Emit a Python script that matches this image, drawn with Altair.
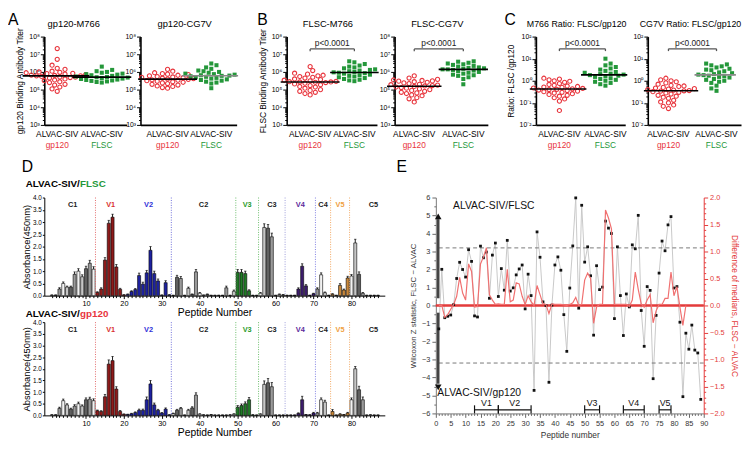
import altair as alt
import numpy as np
import pandas as pd

FONT = "Liberation Sans"
RED = "#e8343c"
GREEN = "#24973a"

# ---------------- Panels A-C : titres / ratios per animal ----------------
vaccine = "ALVAC-SIV"
groups = ["gp120", "FLSC"]

gp120_m766_gp = [2.1e7, 5.2e6, 2.4e6, 1.6e6, 1.4e6, 1.1e6, 1.0e6, 9.5e5, 9.0e5, 8.3e5, 8.0e5, 7.6e5,
                 7.0e5, 6.6e5, 6.3e5, 6.0e5, 6.0e5, 5.6e5, 5.2e5, 5.0e5, 4.8e5, 4.5e5, 4.0e5, 3.5e5,
                 3.2e5, 2.8e5, 2.5e5, 2.0e5, 1.8e5, 1.4e5, 1.1e5, 8.0e4]
gp120_m766_fl = [2.0e6, 1.3e6, 1.1e6, 1.0e6, 9.0e5, 8.0e5, 7.5e5, 7.0e5, 6.5e5, 6.0e5, 5.5e5, 5.2e5,
                 5.0e5, 4.8e5, 4.5e5, 4.2e5, 4.0e5, 3.7e5, 3.5e5, 3.3e5, 3.1e5, 2.9e5, 2.7e5, 2.5e5]
gp120_cg7v_gp = [1.4e6, 1.1e6, 9.0e5, 8.0e5, 7.5e5, 7.0e5, 6.5e5, 6.0e5, 5.5e5, 5.2e5, 5.0e5, 4.7e5,
                 4.4e5, 4.2e5, 4.0e5, 3.8e5, 3.6e5, 3.4e5, 3.2e5, 3.0e5, 2.8e5, 2.6e5, 2.4e5, 2.2e5,
                 2.0e5, 1.8e5, 1.6e5, 1.5e5, 1.3e5, 1.2e5]
gp120_cg7v_fl = [3.0e6, 2.4e6, 1.8e6, 1.5e6, 1.2e6, 1.1e6, 1.0e6, 9.0e5, 8.0e5, 7.5e5, 7.0e5, 6.5e5,
                 6.2e5, 6.0e5, 5.7e5, 5.3e5, 5.0e5, 4.6e5, 4.2e5, 3.8e5, 3.5e5, 3.2e5, 2.8e5, 2.5e5,
                 2.2e5, 1.2e5]
flsc_m766_gp = [2.0e6, 1.2e6, 8.5e5, 7.5e5, 6.5e5, 6.0e5, 5.5e5, 5.0e5, 4.5e5, 4.0e5, 3.7e5, 3.4e5,
                3.1e5, 2.9e5, 2.8e5, 2.7e5, 2.7e5, 2.6e5, 2.5e5, 2.3e5, 2.1e5, 1.9e5, 1.7e5, 1.5e5,
                1.4e5, 1.2e5, 1.0e5, 9.0e4, 8.0e4, 7.0e4, 6.0e4, 5.0e4]
flsc_m766_fl = [4.0e6, 3.5e6, 2.8e6, 2.3e6, 2.0e6, 1.8e6, 1.6e6, 1.4e6, 1.3e6, 1.2e6, 1.1e6, 1.0e6,
                9.5e5, 9.0e5, 8.5e5, 8.0e5, 7.0e5, 6.5e5, 6.0e5, 5.5e5, 5.0e5, 4.5e5, 4.0e5, 3.6e5,
                3.3e5, 3.0e5]
flsc_cg7v_gp = [6.0e5, 4.5e5, 3.8e5, 3.5e5, 3.3e5, 3.1e5, 3.0e5, 2.8e5, 2.6e5, 2.4e5, 2.2e5, 2.0e5,
                1.9e5, 1.8e5, 1.7e5, 1.6e5, 1.5e5, 1.4e5, 1.3e5, 1.2e5, 1.1e5, 1.0e5, 9.0e4, 8.0e4,
                7.0e4, 6.5e4, 6.0e4, 5.0e4, 4.5e4, 3.5e4, 3.0e4, 2.0e4]
flsc_cg7v_fl = [4.0e6, 3.8e6, 3.3e6, 3.0e6, 2.7e6, 2.5e6, 2.2e6, 2.0e6, 1.8e6, 1.7e6, 1.6e6, 1.5e6,
                1.4e6, 1.4e6, 1.3e6, 1.2e6, 1.1e6, 1.0e6, 9.0e5, 8.0e5, 7.0e5, 6.5e5, 6.0e5, 5.0e5,
                4.0e5, 2.0e5]
ratio_m766_gp = [1.3, 1.2, 1.1, 1.0, 0.95, 0.85, 0.75, 0.68, 0.62, 0.58, 0.55, 0.52, 0.5, 0.47, 0.45,
                 0.43, 0.41, 0.4, 0.38, 0.36, 0.34, 0.32, 0.3, 0.28, 0.26, 0.24, 0.22, 0.2, 0.17, 0.15,
                 0.12, 0.045]
ratio_m766_fl = [10, 6, 5, 4.2, 3.6, 3.2, 2.8, 2.5, 2.3, 2.1, 2.0, 1.9, 1.8, 1.7, 1.6, 1.5, 1.3, 1.2,
                 1.1, 1.0, 0.9, 0.8, 0.7, 0.6]
ratio_cg7v_gp = [1.3, 1.1, 1.0, 0.9, 0.8, 0.7, 0.62, 0.58, 0.55, 0.5, 0.47, 0.44, 0.42, 0.4, 0.38,
                 0.36, 0.35, 0.34, 0.32, 0.3, 0.28, 0.25, 0.22, 0.2, 0.18, 0.16, 0.13, 0.11, 0.1,
                 0.08, 0.07, 0.055]
ratio_cg7v_fl = [6, 5.5, 5, 4.5, 4, 3.5, 3.2, 3, 2.7, 2.4, 2.2, 2, 1.9, 1.8, 1.7, 1.6, 1.5, 1.4, 1.2,
                 1.1, 1.0, 0.9, 0.8, 0.6, 0.45, 0.35]
p_text = "p<0.0001"

# ---------------- Panel D : peptide ELISA ----------------
peptides = list(range(1, 88))
flsc_abs = [0.02, 0.02, 0.27, 0.50, 0.35, 0.35, 0.87, 1.00, 0.77, 1.10,
            1.32, 1.08, 0.13, 0.27, 1.45, 2.95, 3.20, 1.17, 0.26, 0.03,
            0.05, 0.17, 0.25, 0.82, 0.47, 0.93, 1.85, 0.90, 0.60, 0.02,
            0.53, 0.03, 0.01, 0.75, 0.70, 0.01, 0.30, 0.05, 0.97, 0.10,
            0.02, 0.05, 0.01, 0.01, 0.01, 0.01, 0.32, 0.01, 0.18, 0.95,
            0.95, 0.90, 0.20, 0.01, 0.01, 0.10, 2.78, 2.75, 2.40, 0.01,
            0.05, 0.03, 0.01, 0.01, 0.01, 0.27, 1.20, 0.40, 0.01, 0.08,
            0.27, 0.85, 0.12, 0.01, 0.06, 0.01, 0.42, 0.23, 0.72, 0.80,
            2.15, 0.87, 0.10, 0.01, 0.01, 0.01, 0.01]
flsc_err = [0.01, 0.01, 0.05, 0.06, 0.04, 0.04, 0.10, 0.10, 0.08, 0.10,
            0.12, 0.10, 0.03, 0.05, 0.10, 0.12, 0.12, 0.10, 0.04, 0.01,
            0.02, 0.03, 0.04, 0.10, 0.08, 0.10, 0.15, 0.10, 0.08, 0.01,
            0.08, 0.01, 0.01, 0.08, 0.08, 0.01, 0.05, 0.02, 0.10, 0.03,
            0.01, 0.02, 0.01, 0.01, 0.01, 0.01, 0.07, 0.01, 0.05, 0.12,
            0.12, 0.10, 0.04, 0.01, 0.01, 0.03, 0.15, 0.15, 0.15, 0.01,
            0.02, 0.02, 0.01, 0.01, 0.01, 0.05, 0.10, 0.05, 0.01, 0.02,
            0.05, 0.08, 0.03, 0.01, 0.02, 0.01, 0.07, 0.04, 0.07, 0.06,
            0.15, 0.10, 0.03, 0.01, 0.01, 0.01, 0.01]
gp120_abs = [0.02, 0.02, 0.30, 0.63, 0.45, 0.27, 0.40, 0.50, 0.40, 0.67,
             0.70, 0.63, 0.20, 0.17, 0.80, 2.20, 2.35, 1.13, 0.17, 0.05,
             0.04, 0.07, 0.12, 0.22, 0.22, 0.67, 1.35, 0.45, 0.22, 0.10,
             0.27, 0.02, 0.08, 0.22, 0.30, 0.01, 0.22, 0.32, 0.87, 0.05,
             0.02, 0.01, 0.03, 0.01, 0.01, 0.01, 0.01, 0.02, 0.05, 0.35,
             0.42, 0.50, 0.67, 0.02, 0.01, 0.05, 1.33, 1.40, 1.23, 0.01,
             0.01, 0.01, 0.01, 0.01, 0.01, 0.08, 0.67, 0.03, 0.02, 0.10,
             0.10, 0.67, 0.57, 0.01, 0.17, 0.01, 0.05, 0.03, 0.10, 0.67,
             2.00, 1.10, 0.67, 0.01, 0.02, 0.01, 0.01]
gp120_err = [0.01, 0.01, 0.05, 0.07, 0.05, 0.04, 0.06, 0.07, 0.05, 0.08,
             0.08, 0.08, 0.03, 0.03, 0.10, 0.18, 0.18, 0.10, 0.04, 0.01,
             0.01, 0.02, 0.03, 0.05, 0.05, 0.12, 0.15, 0.08, 0.04, 0.02,
             0.05, 0.01, 0.02, 0.04, 0.04, 0.01, 0.04, 0.05, 0.10, 0.02,
             0.01, 0.01, 0.01, 0.01, 0.01, 0.01, 0.01, 0.01, 0.02, 0.07,
             0.07, 0.08, 0.10, 0.01, 0.01, 0.02, 0.15, 0.18, 0.18, 0.01,
             0.01, 0.01, 0.01, 0.01, 0.01, 0.03, 0.15, 0.01, 0.01, 0.03,
             0.03, 0.08, 0.08, 0.01, 0.08, 0.01, 0.02, 0.01, 0.03, 0.08,
             0.10, 0.15, 0.12, 0.01, 0.01, 0.01, 0.01]
region_names = ["C1", "V1", "V2", "C2", "V3", "C3", "V4", "C4", "V5", "C5"]
region_start = [0.5, 12.5, 20.5, 32.5, 49.5, 55.5, 62.5, 70.5, 74.5, 79.5]
region_end = [12.5, 20.5, 32.5, 49.5, 55.5, 62.5, 70.5, 74.5, 79.5, 92.0]

# ---------------- Panel E : Wilcoxon statistic ----------------
e_peptides = list(range(1, 90))
wilcoxon_z = [-1.30, 2.01, -0.68, -0.60, -0.53, 0.05, 1.50, 2.40, 2.00, 1.58,
              3.10, 2.45, -0.58, -0.64, 3.30, 2.65, 2.97, 0.40, 2.80, 3.47,
              0.50, 2.05, 0.85, 3.62, 0.80, 0.98, 1.70, 2.03, 2.25, -0.19,
              1.74, 0.55, -4.72, 4.09, 2.68, 0.20, 0.00, -4.27, 0.02, 2.25,
              2.70, 1.96, -0.51, -2.55, 0.97, 3.31, 5.98, -0.15, 5.57, 2.41,
              3.26, 1.65, -1.65, 2.21, 0.88, 1.02, 4.69, 4.30, 4.00, -0.73,
              3.26, 0.55, -1.67, 0.64, -0.08, 3.37, 3.15, 5.01, -0.28, -2.27,
              1.05, 0.84, -4.07, -0.55, 1.80, 3.58, 3.04, 4.48, 4.94, 0.97,
              1.05, -0.93, -5.07, -1.54, -2.43, -1.09, -2.48, -2.64, -5.22]
diff_peptides = list(range(1, 85))
median_diff = [0.00, 0.00, -0.22, -0.17, -0.07, 0.02, 0.17, 0.52, 0.23, 0.10,
               0.77, 0.63, -0.03, -0.02, 0.77, 0.90, 1.07, 0.20, 0.10, 0.02,
               0.03, 0.02, 0.02, 0.67, 0.07, 0.10, 0.42, 0.40, 0.17, 0.02,
               0.18, 0.07, 0.00, 0.37, 0.20, 0.03, 0.02, -0.15, 0.03, 0.02,
               0.02, 0.02, 0.01, 0.00, 0.02, 0.05, 0.15, 0.00, 0.02, 0.47,
               0.60, 0.50, -0.33, -0.03, 0.02, 0.02, 1.77, 1.62, 1.42, 0.02,
               0.02, 0.02, 0.02, 0.02, -0.02, 0.10, 0.62, 0.30, 0.03, -0.03,
               0.10, 0.20, -0.32, -0.10, 0.02, 0.02, 0.13, 0.13, 0.62, 0.18,
               0.35, -0.03, -0.37, 0.00]
z_threshold = [3.2, -3.2]
v_names = ["V1", "V2", "V3", "V4", "V5"]
v_start = [13, 21, 50, 63, 75]
v_end = [21, 32, 55, 70, 79]


# =====================================================================
def swarm(vals, lo, hi, h, unit, diam=4.8):
    """simple beeswarm layout, returns horizontal offsets in scale units"""
    y = (np.log10(np.asarray(vals, float)) - lo) / (hi - lo) * h
    order = np.argsort(y)
    placed = []
    off = np.zeros(len(y))
    step = diam * 0.55
    for n, i in enumerate(order):
        k = 0
        pos = 0.0
        while True:
            cands = [0.0] if k == 0 else ([-k * step, k * step] if n % 2 else [k * step, -k * step])
            found = None
            for c in cands:
                if all((c - px) ** 2 + (y[i] - py) ** 2 >= 0.9 * diam ** 2 for px, py in placed):
                    found = c
                    break
            if found is not None:
                pos = found
                break
            k += 1
        placed.append((pos, y[i]))
        off[i] = pos / unit
    return off


SUPS = "['⁻²','⁻¹','⁰','¹','²','³','⁴','⁵','⁶','⁷','⁸']"
MAJOR = "abs(log(datum.value)/LN10 - round(log(datum.value)/LN10)) < 0.001"


def strip(title, gp, fl, lo, hi, W, dom, ytitle=None, letter=None, lx=-37, pline=None,
          medc=("black", "black"), tdx=-4, tsize=9.5):
    H = 90
    unit = W / (dom[1] - dom[0])
    rows, meds = [], []
    for g, vals in enumerate([gp, fl]):
        off = swarm(vals, lo, hi, H, unit)
        for v, o in zip(vals, off):
            rows.append({"g": g, "xp": g + o, "v": v})
        meds.append({"x1": g + off.min() - 0.08, "x2": g + off.max() + 0.08,
                     "m": float(np.median(vals)), "c": medc[g]})
    pts = pd.DataFrame(rows)
    med = pd.DataFrame(meds)
    xs = alt.Scale(domain=list(dom), nice=False, zero=False)
    ys = alt.Scale(type="log", domain=[10.0 ** lo, 10.0 ** hi], nice=False)
    ticks = [m * 10.0 ** k for k in range(lo, hi) for m in range(1, 10)] + [10.0 ** hi]
    yax = alt.Axis(values=ticks,
                   labelExpr=f"{MAJOR} ? '10' + {SUPS}[round(log(datum.value)/LN10) + 2] : ''",
                   tickSize={"condition": {"test": MAJOR, "value": 4}, "value": 2},
                   tickColor="black", domainColor="black", domainWidth=1.6, tickWidth=1,
                   labelFontSize=7, labelPadding=1, labelColor="black", labelOverlap=False,
                   title=ytitle if ytitle else "", titleFontSize=8.5, titleFontWeight="normal",
                   titlePadding=4, titleColor="black", grid=False)
    xax = alt.Axis(labels=False, ticks=False, title="", domainColor="black",
                   domainWidth=1.6, grid=False)
    X = lambda f: alt.X(f, scale=xs, axis=xax)
    Y = lambda f: alt.Y(f, scale=ys, axis=yax)
    layers = []
    layers.append(alt.Chart(pts[pts.g == 0]).mark_point(
        shape="circle", filled=False, color=RED, strokeWidth=1.1, size=18, opacity=1).encode(
        x=X("xp:Q"), y=Y("v:Q")))
    layers.append(alt.Chart(pts[pts.g == 1]).mark_square(color=GREEN, size=17, opacity=1).encode(
        x=X("xp:Q"), y=Y("v:Q")))
    layers.append(alt.Chart(med).mark_rule(strokeWidth=1.6).encode(
        x=X("x1:Q"), x2="x2:Q", y=Y("m:Q"), color=alt.Color("c:N", scale=None)))
    lab = pd.DataFrame({"g": [0, 1], "l1": [vaccine, vaccine], "l2": groups, "c": [RED, GREEN]})
    layers.append(alt.Chart(lab).mark_text(fontSize=8.5, color="black").encode(
        x=X("g:Q"), y=alt.value(H + 9), text="l1:N"))
    layers.append(alt.Chart(lab).mark_text(fontSize=8.5).encode(
        x=X("g:Q"), y=alt.value(H + 21), text="l2:N", color=alt.Color("c:N", scale=None)))
    layers.append(alt.Chart(pd.DataFrame({"t": [title]})).mark_text(
        fontSize=tsize, color="black").encode(x=alt.value(W / 2 + tdx), y=alt.value(-13), text="t:N"))
    if letter:
        layers.append(alt.Chart(pd.DataFrame({"t": [letter]})).mark_text(
            fontSize=16, align="left", color="black").encode(
            x=alt.value(lx), y=alt.value(-17), text="t:N"))
    if pline:
        br = pd.DataFrame({"x1": [0.0], "x2": [1.0], "y": [pline], "t": [p_text]})
        br["yl"] = br["y"] / 10 ** (0.13 * (hi - lo) / 5)
        layers.append(alt.Chart(br).mark_rule(color="#555", strokeWidth=1.3).encode(
            x=X("x1:Q"), x2="x2:Q", y=Y("y:Q")))
        layers.append(alt.Chart(br).transform_fold(["x1", "x2"], as_=["k", "xe"]).mark_rule(
            color="#555", strokeWidth=1.3).encode(x=X("xe:Q"), y=Y("y:Q"), y2="yl:Q"))
        layers.append(alt.Chart(br).transform_calculate(xm="(datum.x1 + datum.x2) / 2").mark_text(
            fontSize=8.5, color="#222", baseline="bottom", dy=-1).encode(
            x=X("xm:Q"), y=Y("y:Q"), text="t:N"))
    return alt.layer(*layers).properties(width=W, height=H)


A1 = strip("gp120-M766", gp120_m766_gp, gp120_m766_fl, 3, 8, 84, (-0.29, 1.56),
           ytitle="gp120 Binding Antibody Titer", letter="A", lx=-37, tdx=-12)
A2 = strip("gp120-CG7V", gp120_cg7v_gp, gp120_cg7v_fl, 3, 8, 98, (-0.62, 1.58),
           medc=("black", "#888888"))
B1 = strip("FLSC-M766", flsc_m766_gp, flsc_m766_fl, 3, 8, 92, (-0.53, 1.51),
           ytitle="FLSC Binding Antibody Titer", letter="B", lx=-30, pline=2.0e7)
B2 = strip("FLSC-CG7V", flsc_cg7v_gp, flsc_cg7v_fl, 3, 8, 95, (-0.40, 1.50), pline=2.0e7)
C1 = strip("M766 Ratio: FLSC/gp120", ratio_m766_gp, ratio_m766_fl, -2, 2, 91, (-0.51, 1.43),
           ytitle="Ratio: FLSC /gp120", letter="C", lx=-32, pline=28, tsize=9)
C2 = strip("CG7V Ratio: FLSC/gp120", ratio_cg7v_gp, ratio_cg7v_fl, -2, 2, 95, (-0.43, 1.51),
           pline=28, medc=("black", "#888888"), tsize=9)

top = alt.hconcat(alt.hconcat(A1, A2, spacing=-8),
                  alt.hconcat(alt.hconcat(B1, B2, spacing=-1), alt.hconcat(C1, C2, spacing=2),
                              spacing=16), spacing=18)

# ----------------------------- D ------------------------------------
V_FILL = {"V1": "#8e1b1b", "V2": "#1e22a0", "V3": "#207a26", "V4": "#3c1c6c", "V5": "#c8873a"}
GRAYS = ["#f2f2f2", "#c6c6c6", "#606060", "#9a9a9a"]
TXT_COL = {"C": "#222222", "V1": "#d93030", "V2": "#3030d8", "V3": "#2a9c2a", "V4": "#5b2a9c",
           "V5": "#f0a040"}
LINE_COL = {"V1": "#e06666", "C2": "#6a6ad8", "V3": "#66bb66", "C3": "#66bb66", "V4": "#9a9ad8",
            "C4": "#7a7ae0", "V5": "#f2a45c", "C5": "#f2a45c"}


def region_of(p):
    for n, s, e in zip(region_names, region_start, region_end):
        if s < p < e:
            return n
    return "C5"


reg = pd.DataFrame({"name": region_names, "s": region_start, "e": region_end})
reg["mid"] = (reg.s + reg.e.clip(upper=88)) / 2
reg.loc[reg.name == "C5", "mid"] = 85.8
reg["tc"] = [TXT_COL.get(n, TXT_COL["C"]) for n in reg.name]
bnd = reg[reg.name.isin(LINE_COL.keys())].copy()
bnd["lc"] = [LINE_COL[n] for n in bnd.name]

dxs = alt.Scale(domain=[0.3, 87.5], nice=False, zero=False)
dys = alt.Scale(domain=[0, 4], nice=False)
d_xax = alt.Axis(values=peptides, labelExpr="datum.value % 10 == 0 ? datum.label : ''",
                 tickSize={"condition": {"test": "datum.value % 10 == 0", "value": 3}, "value": 2},
                 tickColor="black", domainColor="black", labelFontSize=7.5, labelPadding=1,
                 labelColor="black", labelFlush=False, labelOverlap=False, grid=False,
                 title="Peptide Number", titleFontSize=10.5, titleFontWeight="normal",
                 titlePadding=1, titleColor="black")
d_yax = alt.Axis(values=[i / 2 for i in range(9)], format=".1f", tickSize=2, tickColor="black",
                 domainColor="black", labelFontSize=6.5, labelPadding=1, labelColor="black",
                 labelOverlap=False, grid=False, title="Absorbance(450nm)", titleFontSize=9.5,
                 titleFontWeight="normal", titlePadding=1, titleColor="black")


def dpanel(vals, errs, H, first):
    df = pd.DataFrame({"pep": peptides, "v": vals, "e": errs})
    df["top"] = df.v + df.e
    df["reg"] = [region_of(p) for p in df.pep]
    df["fill"] = [V_FILL.get(r, GRAYS[p % 4]) for r, p in zip(df.reg, df.pep)]
    X = lambda f: alt.X(f, scale=dxs, axis=d_xax)
    Y = lambda f: alt.Y(f, scale=dys, axis=d_yax)
    layers = [
        alt.Chart(df).mark_bar(size=3.1, stroke="black", strokeWidth=0.6).encode(
            x=X("pep:Q"), y=Y("v:Q"), fill=alt.Fill("fill:N", scale=None)),
        alt.Chart(bnd).mark_rule(strokeDash=[1, 1.5], strokeWidth=1).encode(
            x=X("s:Q"), color=alt.Color("lc:N", scale=None)),
        alt.Chart(df).mark_rule(color="black", strokeWidth=0.9).encode(
            x=X("pep:Q"), y=Y("v:Q"), y2="top:Q"),
        alt.Chart(df).mark_tick(orient="horizontal", color="black", size=2.4, thickness=0.9).encode(
            x=X("pep:Q"), y=Y("top:Q")),
        alt.Chart(reg).mark_text(fontSize=7.5, fontWeight="bold").encode(
            x=X("mid:Q"), y=alt.value(8), text="name:N", color=alt.Color("tc:N", scale=None)),
    ]

    def two_tone(y, second, col):
        t = pd.DataFrame({"a": [vaccine + "/"], "b": [second]})
        return [
            alt.Chart(t).mark_text(fontSize=10, fontWeight="bold", align="left", color="black").encode(
                x=alt.value(-19), y=alt.value(y), text="a:N"),
            alt.Chart(t).mark_text(fontSize=10, fontWeight="bold", align="left", color=col).encode(
                x=alt.value(-19 + 55.5), y=alt.value(y), text="b:N"),
        ]

    if first:
        layers.append(alt.Chart(pd.DataFrame({"t": ["D"]})).mark_text(
            fontSize=16, align="left", color="black").encode(x=alt.value(-23), y=alt.value(-31), text="t:N"))
        layers += two_tone(-14, "FLSC", GREEN)
        layers += two_tone(H + 19, "gp120", RED)
    return alt.layer(*layers).properties(width=347, height=H)


D1 = dpanel(flsc_abs, flsc_err, 100, True)
D2 = dpanel(gp120_abs, gp120_err, 95, False)
D = alt.vconcat(D1, D2, spacing=0)

# ----------------------------- E ------------------------------------
ex = alt.Scale(domain=[0, 90], nice=False, zero=False)
ey = alt.Scale(domain=[-6, 6], nice=False, zero=False)
ey2 = alt.Scale(domain=[-2, 2], nice=False, zero=False)
EGR = "#333333"
ERED = "#e33b3b"
ex_axis = alt.Axis(values=list(range(0, 91)), labelExpr="datum.value % 5 == 0 ? datum.label : ''",
                   tickSize={"condition": {"test": "datum.value % 5 == 0", "value": 4}, "value": 2},
                   tickColor="#666", domainColor="#777", labelFontSize=7.5, labelColor=EGR,
                   labelFlush=False, labelOverlap=False, labelPadding=2, grid=False,
                   title="Peptide number", titleFontSize=8.5, titleFontWeight="normal",
                   titleColor=EGR, titlePadding=4)
ey_axis = alt.Axis(values=[v / 2 for v in range(-12, 13)], format=".0f",
                   labelExpr="datum.value % 1 == 0 ? datum.label : ''",
                   tickSize={"condition": {"test": "datum.value % 1 == 0", "value": 4}, "value": 2},
                   tickColor="#666", domainColor="#777", labelFontSize=7.5, labelColor=EGR,
                   labelOverlap=False, labelPadding=2, grid=False,
                   title="Wilcoxon Z statistic, FLSC − ALVAC", titleFontSize=8,
                   titleFontWeight="normal", titleColor=EGR, titlePadding=4)
half = "abs(datum.value*2 - round(datum.value*2)) < 0.001"
ey2_axis = alt.Axis(values=[round(v / 10, 1) for v in range(-20, 21)], format=".1f",
                    labelExpr=f"{half} ? datum.label : ''",
                    tickSize={"condition": {"test": half, "value": 4}, "value": 2},
                    orient="right", tickColor=ERED, domainColor=ERED, labelColor=ERED,
                    labelFontSize=7.5, labelOverlap=False, labelPadding=2, grid=False,
                    title="Difference of medians, FLSC − ALVAC", titleFontSize=8.5,
                    titleFontWeight="normal", titleColor=ERED, titlePadding=5)

zdf = pd.DataFrame({"pep": e_peptides, "z": wilcoxon_z})
ddf = pd.DataFrame({"pep": diff_peptides, "d": median_diff})
thr = pd.DataFrame({"y": z_threshold})
vb = pd.DataFrame({"name": v_names, "s": v_start, "e": v_end})
vb["mid"] = (vb.s + vb.e) / 2
arr = pd.DataFrame({"x": [0.8, 0.8], "y1": [0.4, -0.4], "y2": [4.8, -4.35]})
heads = pd.DataFrame({"x": [0.8, 0.8], "y": [4.95, -4.55], "s": ["triangle-up", "triangle-down"]})
ann = pd.DataFrame({"x": [5.8, 0.5], "y": [5.55, -4.85], "t": [vaccine + "/FLSC", vaccine + "/gp120"]})

XE = lambda f: alt.X(f, scale=ex, axis=ex_axis)
YE = lambda f: alt.Y(f, scale=ey, axis=ey_axis)
YD = lambda d: alt.Y(datum=d, scale=ey, axis=ey_axis)

left = alt.layer(
    alt.Chart(zdf).mark_line(color="#c8c8c8", strokeWidth=1).encode(x=XE("pep:Q"), y=YE("z:Q")),
    alt.Chart(thr).mark_rule(color="#777", strokeDash=[4, 3], strokeWidth=1).encode(y=YE("y:Q")),
    alt.Chart(thr).mark_rule(color=ERED, strokeWidth=2).encode(y=YD(0)),
    alt.Chart(arr).mark_rule(color="#444", strokeWidth=2.6).encode(x=XE("x:Q"), y=YE("y1:Q"), y2="y2:Q"),
    alt.Chart(heads).mark_point(filled=True, color="#111", size=45, opacity=1).encode(
        x=XE("x:Q"), y=YE("y:Q"), shape=alt.Shape("s:N", scale=None)),
    alt.Chart(zdf).mark_square(color="#111", size=8, opacity=1).encode(x=XE("pep:Q"), y=YE("z:Q")),
    alt.Chart(ann).mark_text(fontSize=10.5, align="left", color="#111").encode(
        x=XE("x:Q"), y=YE("y:Q"), text="t:N"),
    alt.Chart(vb).mark_rule(color="#111", strokeWidth=1.2).encode(x=XE("s:Q"), x2="e:Q", y=YD(-5.8)),
    alt.Chart(vb).transform_fold(["s", "e"], as_=["k", "xb"]).mark_rule(color="#111", strokeWidth=1.2).encode(
        x=XE("xb:Q"), y=YD(-5.55), y2=alt.Y2(datum=-6.0)),
    alt.Chart(vb).mark_text(fontSize=9, color="#111").encode(x=XE("mid:Q"), y=YD(-5.42), text="name:N"),
    alt.Chart(pd.DataFrame({"t": ["E"]})).mark_text(fontSize=16, align="left", color="black").encode(
        x=alt.value(-40), y=alt.value(-31), text="t:N"),
)
right = alt.Chart(ddf).mark_line(color="#f07070", strokeWidth=1.2).encode(
    x=XE("pep:Q"), y=alt.Y("d:Q", scale=ey2, axis=ey2_axis))
E = alt.layer(left, right).resolve_scale(y="independent").properties(width=273, height=220)

bottom = alt.hconcat(D, E, spacing=12)

chart = alt.vconcat(top, bottom, spacing=9).properties(padding=0).configure(
    font=FONT).configure_axis(labelOverlap=False).configure_view(stroke=None)

chart.save("out.html", embed_options={"renderer": "svg", "actions": False})
